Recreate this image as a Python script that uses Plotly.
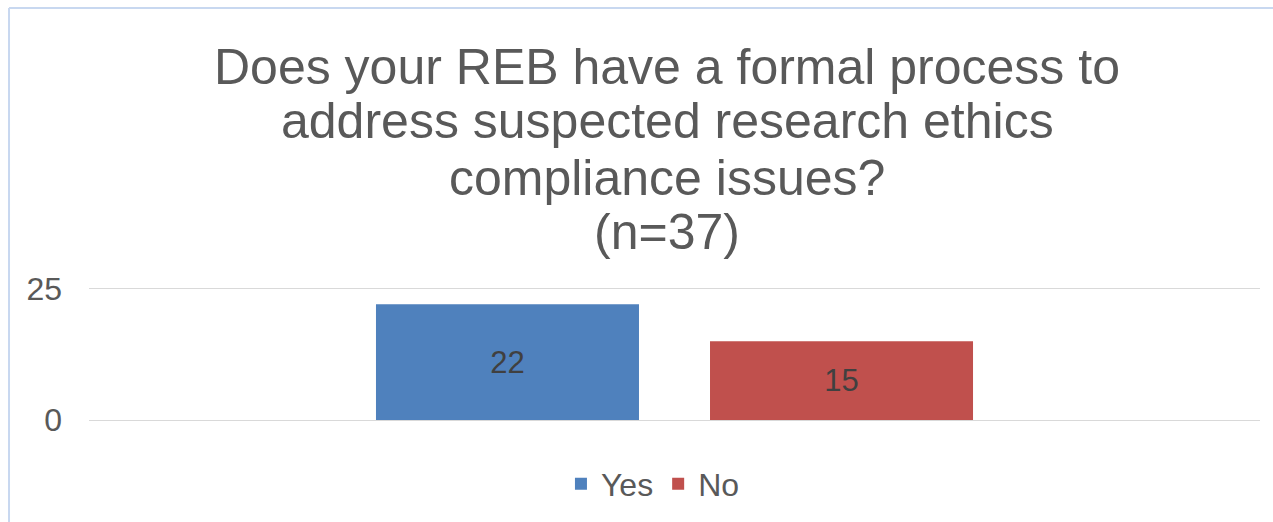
"""
REB formal compliance process survey -- Yes / No bar chart.
"""

import plotly.graph_objects as go

TITLE_LINES = [
    "Does your REB have a formal process to",
    "address suspected research ethics",
    "compliance issues?",
    "(n=37)",
]
TITLE_Y = [2.657, 2.247, 1.821, 1.411]  # paper y of each title line

CATEGORY = [""]
SERIES = ["Yes", "No"]
VALUES = [22, 15]
COLORS = ["#4F81BD", "#C0504D"]
Y_TICKS = [0, 25]

FONT = "Liberation Sans, Arial, sans-serif"
GREY = "#595959"


def build_chart():
    fig = go.Figure()

    for name, val, color in zip(SERIES, VALUES, COLORS):
        fig.add_trace(go.Bar(
            x=CATEGORY, y=[val], name=name,
            marker=dict(color=color, line=dict(width=0)),
            text=[str(val)], textposition="inside",
            insidetextanchor="middle",
            textfont=dict(family=FONT, size=31, color="#404040"),
        ))

    for line, y in zip(TITLE_LINES, TITLE_Y):
        fig.add_annotation(
            text=line, xref="paper", yref="paper",
            x=0.4936, y=y, xanchor="center", yanchor="middle",
            showarrow=False,
            font=dict(family=FONT, size=50, color=GREY),
        )

    # light blue chart frame (left and top edges visible)
    frame = dict(color="#C8D8F0", width=2)
    fig.add_shape(type="line", xref="paper", yref="paper",
                  x0=-0.0683, x1=-0.0683, y0=-1.0, y1=3.097, line=frame)
    fig.add_shape(type="line", xref="paper", yref="paper",
                  x0=-0.0683, x1=1.2, y0=3.097, y1=3.097, line=frame)

    fig.update_layout(
        width=1273, height=522,
        margin=dict(l=89, r=13, t=287, b=101),
        paper_bgcolor="white", plot_bgcolor="white",
        barmode="group", bargap=0.4295, bargroupgap=0.2126,
        showlegend=True,
        legend=dict(
            orientation="h", x=0.4816, y=-0.470,
            xanchor="center", yanchor="middle",
            font=dict(family=FONT, size=32, color=GREY),
            itemwidth=30, traceorder="normal",
        ),
        font=dict(family=FONT, color=GREY),
    )
    fig.update_xaxes(showticklabels=False, showgrid=False, zeroline=False,
                     showline=False, ticks="")
    # top of range a bit above 25 so the 25 gridline is drawn
    fig.update_yaxes(
        range=[0, 25.3], tickvals=Y_TICKS, ticks="",
        showgrid=True, gridcolor="#D9D9D9", gridwidth=1,
        zeroline=True, zerolinecolor="#D9D9D9", zerolinewidth=1,
        showline=False, ticklabelstandoff=26,
        tickfont=dict(family=FONT, size=32, color=GREY),
    )
    return fig


def main():
    fig = build_chart()
    # drop the default 8px body margin so the figure sits at the page corner
    fig.write_html(
        "out.html",
        config={"displayModeBar": False},
        post_script="document.body.style.margin='0';",
    )


if __name__ == "__main__":
    main()
